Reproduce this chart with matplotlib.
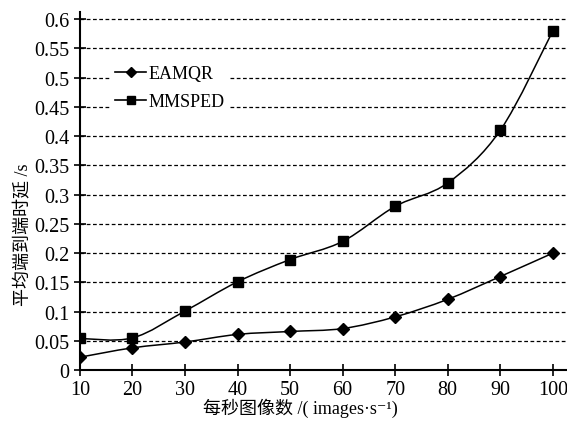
import numpy as np
import matplotlib
matplotlib.use('Agg')
import matplotlib.pyplot as plt
from matplotlib.path import Path
from matplotlib.patches import PathPatch
from matplotlib.lines import Line2D

plt.rcParams['font.family'] = ['Liberation Serif', 'Noto Sans CJK SC', 'DejaVu Serif']

fps = [10, 20, 30, 40, 50, 60, 70, 80, 90, 100]
eamqr = [0.022, 0.038, 0.048, 0.061, 0.066, 0.071, 0.091, 0.121, 0.160, 0.200]
mmsped = [0.054, 0.055, 0.101, 0.151, 0.189, 0.220, 0.280, 0.320, 0.410, 0.580]
yticks = [0, 0.05, 0.1, 0.15, 0.2, 0.25, 0.3, 0.35, 0.4, 0.45, 0.5, 0.55, 0.6]
ytick_labels = ['0', '0.05', '0.1', '0.15', '0.2', '0.25', '0.3', '0.35', '0.4',
                '0.45', '0.5', '0.55', '0.6']


def smooth_path(x, y):
    # excel style smoothed line: catmull-rom as cubic bezier segments
    pts = np.column_stack((x, y)).astype(float)
    p = np.vstack((pts[0], pts, pts[-1]))
    verts = [pts[0]]
    codes = [Path.MOVETO]
    for i in range(1, len(p) - 2):
        c1 = p[i] + (p[i + 1] - p[i - 1]) / 6
        c2 = p[i + 1] - (p[i + 2] - p[i]) / 6
        verts += [c1, c2, p[i + 1]]
        codes += [Path.CURVE4] * 3
    return Path(verts, codes)


fig = plt.figure(figsize=(5.67, 4.27), dpi=100)
ax = fig.add_axes([0.141, 0.131, 0.859, 0.838])

for ys, mk, ms in [(eamqr, 'D', 6.5), (mmsped, 's', 7.2)]:
    ax.add_patch(PathPatch(smooth_path(fps, ys), fill=False, color='black', lw=1.1, zorder=3))
    ax.plot(fps, ys, ls='none', marker=mk, ms=ms, color='black', zorder=4)

ax.set_xlim(10, 102.7)
ax.set_ylim(0, 0.612)
ax.set_xticks(fps)
ax.set_yticks(yticks)
ax.set_yticklabels(ytick_labels)
ax.tick_params(direction='inout', length=9, width=1.2, labelsize=14.5, pad=3)
for y in yticks[1:]:
    ax.axhline(y, color='black', lw=0.9, ls=(0, (3, 2)), zorder=1)

ax.spines['top'].set_visible(False)
ax.spines['right'].set_visible(False)
ax.spines['left'].set_linewidth(1.5)
ax.spines['bottom'].set_linewidth(1.5)

ax.set_xlabel('每秒图像数 /( images·s⁻¹)', fontsize=13)
ax.set_ylabel('平均端到端时延 /s', fontsize=13)
ax.xaxis.set_label_coords(0.452, -0.078)
ax.yaxis.set_label_coords(-0.098, 0.38)

handles = [Line2D([], [], color='black', marker='D', ms=5, lw=1.2),
           Line2D([], [], color='black', marker='s', ms=6, lw=1.2)]
leg = ax.legend(handles, ['EAMQR', 'MMSPED'], loc='upper left', bbox_to_anchor=(0.043, 0.893),
                fontsize=13, handlelength=1.7, handletextpad=0.15, labelspacing=0.62,
                frameon=True, fancybox=False, borderpad=0.3)
leg.get_frame().set_edgecolor('none')
leg.get_frame().set_facecolor('white')
leg.get_frame().set_alpha(1)

fig.savefig('out.png', dpi=100)
